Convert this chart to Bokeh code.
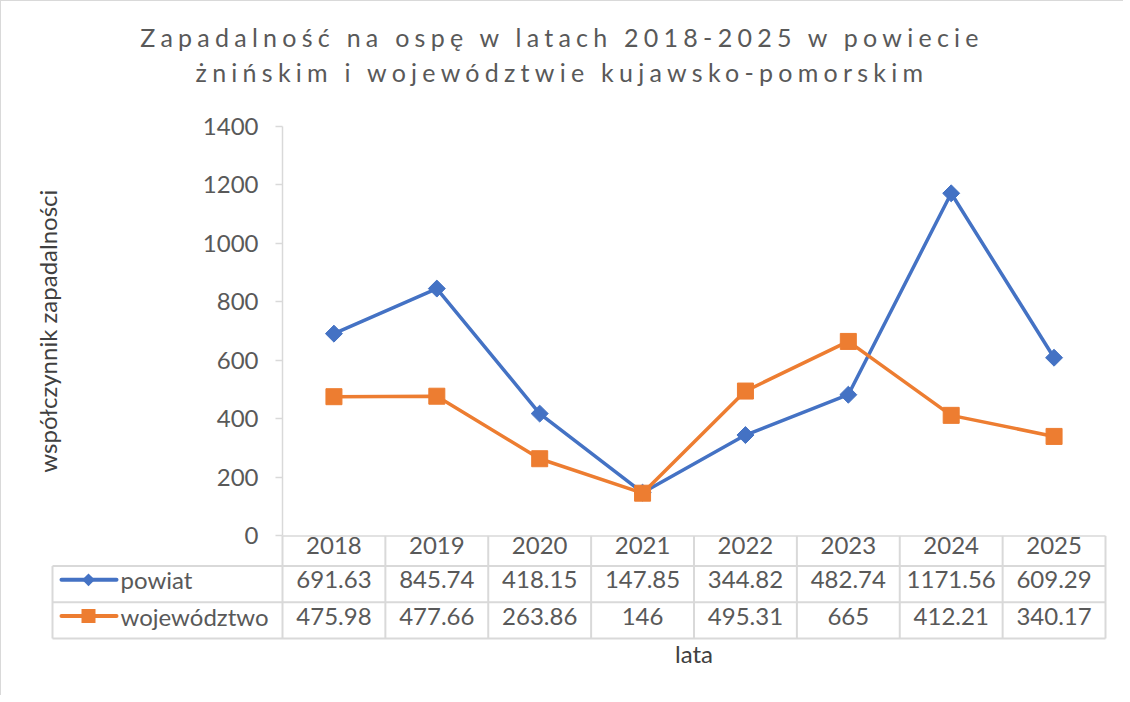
import math
from bokeh.plotting import figure
from bokeh.models import Range1d, FixedTicker, LinearAxis, Div
from bokeh.layouts import column
from bokeh.core.properties import value
from bokeh.embed import file_html
from bokeh.resources import INLINE

# ---- data ----
YEARS = ["2018", "2019", "2020", "2021", "2022", "2023", "2024", "2025"]
POWIAT = [691.63, 845.74, 418.15, 147.85, 344.82, 482.74, 1171.56, 609.29]
WOJEWODZTWO = [475.98, 477.66, 263.86, 146, 495.31, 665, 412.21, 340.17]
SERIES_NAMES = ["powiat", "województwo"]
Y_TICKS = [0, 200, 400, 600, 800, 1000, 1200, 1400]
TITLE_LINES = ["Zapadalność na ospę w latach 2018-2025 w powiecie",
               "żnińskim i województwie kujawsko-pomorskim"]
Y_LABEL = "współczynnik zapadalności"
X_LABEL = "lata"

# ---- style / layout constants ----
BLUE = "#4472C4"
ORANGE = "#ED7D31"
TXT = "#595959"
GRID = "#d9d9d9"
FONT = "Lato"
FS = "24px"
Y_MAX = 1400
Y_MIN = -350.9           # bottom of the data table, in y units
ROW_EDGES = [0, -103.2, -227.0, -350.9]
ROW_MID = [-33.0, -150.0, -274.0]
FRAME_W, FRAME_H = 823, 509
N = len(YEARS)
PX_X = N / FRAME_W                 # x units per pixel
PX_Y = (Y_MAX - Y_MIN) / FRAME_H   # y units per pixel
LEFT = -0.5


def xpx(offset_px):
    """x position given as pixels to the left (negative) of the y axis."""
    return LEFT + offset_px * PX_X


TABLE_LEFT = xpx(-230)
LEG_X0, LEG_X1, LEG_MK, LEG_TX = xpx(-221), xpx(-166), xpx(-194), xpx(-162)
YLABEL_X = xpx(-235)

xs = list(range(N))
W = 1112

title_html = (
    f'<div style="font-family:Lato;font-size:25px;letter-spacing:5.25px;'
    f'line-height:35px;color:{TXT};text-align:center;padding-top:14px;'
    f'white-space:nowrap;width:{W}px;">'
    f'{TITLE_LINES[0]}<br>{TITLE_LINES[1]}</div>'
)
div = Div(text=title_html, width=W, height=92)

p = figure(width=W, height=592, output_backend="svg", toolbar_location=None,
           x_range=Range1d(LEFT, N - 0.5), y_range=Range1d(Y_MIN, Y_MAX),
           x_axis_type=None, min_border_left=281, min_border_right=8,
           min_border_top=23, min_border_bottom=57)
p.outline_line_color = None
p.background_fill_color = "white"
p.border_fill_color = "white"
p.ygrid.grid_line_color = None

yax = p.yaxis[0]
yax.ticker = FixedTicker(ticks=Y_TICKS)
yax.bounds = (Y_TICKS[0], Y_TICKS[-1])
yax.axis_line_color = GRID
yax.axis_line_width = 1.5
yax.major_tick_line_color = GRID
yax.major_tick_line_width = 1.5
yax.major_tick_out = 7
yax.major_tick_in = 0
yax.minor_tick_line_color = None
yax.major_label_standoff = 17
yax.major_label_text_font = FONT
yax.major_label_text_font_size = FS
yax.major_label_text_color = TXT

xax = LinearAxis(ticker=FixedTicker(ticks=[]), axis_label=X_LABEL)
xax.axis_line_color = None
xax.major_tick_line_color = None
xax.minor_tick_line_color = None
xax.major_label_text_font_size = "0px"
xax.axis_label_text_font = FONT
xax.axis_label_text_font_size = FS
xax.axis_label_text_font_style = "normal"
xax.axis_label_text_color = "#404040"
xax.axis_label_standoff = 0
p.add_layout(xax, "below")

# y axis title (drawn as text so it can sit beside the plotting area only)
p.text(x=[YLABEL_X], y=[(Y_TICKS[0] + Y_TICKS[-1]) / 2], text=[Y_LABEL],
       angle=math.pi / 2, text_font=value(FONT), text_font_size=FS,
       text_color="#404040", text_align="center", text_baseline="middle",
       level="overlay")

# ---- table grid ----
p.segment(x0=[LEFT], y0=[ROW_EDGES[0]], x1=[N - 0.5], y1=[ROW_EDGES[0]],
          line_color=GRID, line_width=1.5, level="overlay")
p.segment(x0=[TABLE_LEFT] * 3, y0=ROW_EDGES[1:], x1=[N - 0.5] * 3, y1=ROW_EDGES[1:],
          line_color=GRID, line_width=2, level="overlay")
vx = [i - 0.5 for i in range(N + 1)]
p.segment(x0=vx, y0=[ROW_EDGES[0]] * len(vx), x1=vx, y1=[ROW_EDGES[-1]] * len(vx),
          line_color=GRID, line_width=2, level="overlay")
p.segment(x0=[TABLE_LEFT], y0=[ROW_EDGES[1]], x1=[TABLE_LEFT], y1=[ROW_EDGES[-1]],
          line_color=GRID, line_width=2, level="overlay")

# ---- table text ----
common = dict(text_font=value(FONT), text_font_size=FS, text_color=TXT,
              text_align="center", text_baseline="middle", level="overlay")
p.text(x=xs, y=[ROW_MID[0]] * N, text=YEARS, **common)
p.text(x=xs, y=[ROW_MID[1]] * N, text=[f"{v:g}" for v in POWIAT], **common)
p.text(x=xs, y=[ROW_MID[2]] * N, text=[f"{v:g}" for v in WOJEWODZTWO], **common)

# ---- series ----
p.line(xs, POWIAT, line_color=BLUE, line_width=3.5, line_join="round")
p.scatter(xs, POWIAT, marker="square", angle=math.pi / 4, size=12,
          fill_color=BLUE, line_color=BLUE)
p.line(xs, WOJEWODZTWO, line_color=ORANGE, line_width=3.5, line_join="round")
p.scatter(xs, WOJEWODZTWO, marker="square", size=16,
          fill_color=ORANGE, line_color=ORANGE)

# ---- legend keys in the table's row headers ----
for row, col in ((ROW_MID[1], BLUE), (ROW_MID[2], ORANGE)):
    p.segment(x0=[LEG_X0], y0=[row], x1=[LEG_X1], y1=[row],
              line_color=col, line_width=4, line_cap="round", level="overlay")
# diamond key: square of side 9 px turned by 45 degrees
d = 4.5 / math.sqrt(2)
p.segment(x0=[LEG_MK - d * PX_X], y0=[ROW_MID[1] - d * PX_Y],
          x1=[LEG_MK + d * PX_X], y1=[ROW_MID[1] + d * PX_Y],
          line_color=BLUE, line_width=9, line_cap="butt", level="overlay")
# square key: 14 px
p.segment(x0=[LEG_MK - 7 * PX_X], y0=[ROW_MID[2]], x1=[LEG_MK + 7 * PX_X], y1=[ROW_MID[2]],
          line_color=ORANGE, line_width=14, line_cap="butt", level="overlay")
p.text(x=[LEG_TX, LEG_TX], y=ROW_MID[1:], text=SERIES_NAMES,
       text_font=value(FONT), text_font_size=FS, text_color=TXT,
       text_align="left", text_baseline="middle", level="overlay")

layout = column(div, p, spacing=0,
                styles={"border-left": f"1px solid {GRID}", "border-top": f"1px solid {GRID}"})

open("out.html", "w").write(file_html(layout, INLINE))
